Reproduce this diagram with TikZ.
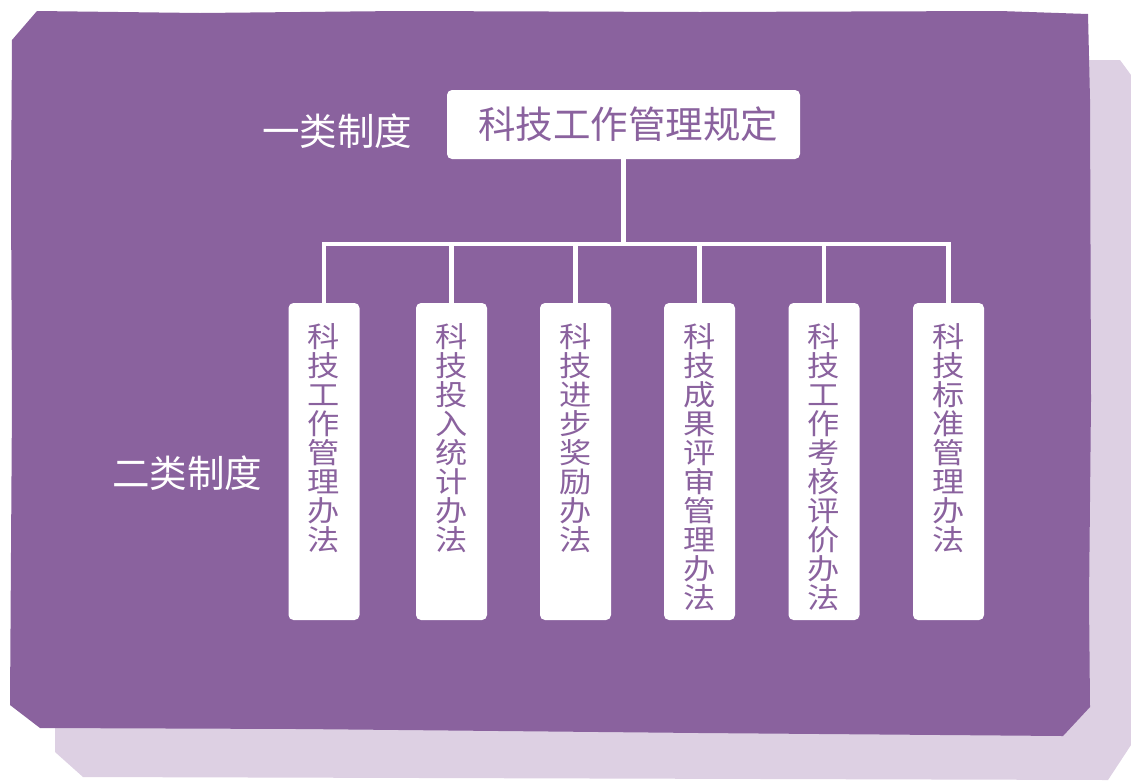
\documentclass[tikz,border=0pt]{standalone}
\usepackage{fontspec}
\newfontfamily\cjk{Noto Sans CJK SC}
\newfontfamily\cjkwide[FakeStretch=1.13]{Noto Sans CJK SC}
\usetikzlibrary{positioning}
\definecolor{bgpurple}{RGB}{138,98,158}
\definecolor{shadowpurple}{RGB}{221,208,227}

\begin{document}
\begin{tikzpicture}[x=1pt,y=-1pt,
  topbox/.style={fill=white,rounded corners=5pt,minimum width=353pt,minimum height=69pt,inner sep=0pt,
    text=bgpurple,font=\cjk\fontsize{37.5}{40}\selectfont},
  leafbox/.style={fill=white,rounded corners=5pt,minimum width=71pt,minimum height=317pt,inner sep=0pt},
  leaftext/.style={anchor=north,inner sep=0pt,text=bgpurple,align=center,text width=36pt,
    font=\cjkwide\fontsize{28.5}{29}\selectfont},
  levellabel/.style={text=white,inner sep=0pt,font=\cjk\fontsize{37.5}{40}\selectfont},
  conn/.style={draw=white,line width=4.5pt}]
\useasboundingbox (0,0) rectangle (1131,780);
% background: shadow and rough purple sheet
\fill [shadowpurple] (55,60) -- (1120,60) -- (1131,75) -- (1131,745) -- (1108,780) -- (83,777) -- (55,752) -- cycle;
\fill [bgpurple] (37,11) -- (200,13) -- (400,11) -- (700,12) -- (1000,11) -- (1088,14) -- (1090,100)
  -- (1091,400) -- (1089,600) -- (1090,707) -- (1063,736) -- (700,733) -- (300,729) -- (40,728)
  -- (10,705) -- (12,400) -- (11,200) -- (12,40) -- cycle;
% level labels
\node [levellabel] (lvl1) at (337,131) {一类制度};
\node [levellabel] (lvl2) at (187,473) {二类制度};
% top node
\node [topbox] (top) at (623.5,124.5) {\raisebox{4pt}{\hspace*{9pt}科技工作管理规定}};
\coordinate (hub) at (623.5,244);
\draw [conn] (top.south) -- (hub);
% second level
\foreach \i/\x/\txt in {1/324/{科\\技\\工\\作\\管\\理\\办\\法},
                        2/451.5/{科\\技\\投\\入\\统\\计\\办\\法},
                        3/575.5/{科\\技\\进\\步\\奖\\励\\办\\法},
                        4/699.5/{科\\技\\成\\果\\评\\审\\管\\理\\办\\法},
                        5/824/{科\\技\\工\\作\\考\\核\\评\\价\\办\\法},
                        6/948.5/{科\\技\\标\\准\\管\\理\\办\\法}} {
  \node [leafbox] (b\i) at (\x,461.5) {};
  \node [leaftext] (t\i) at ([yshift=-21pt]b\i.north) {\txt};
  \draw [conn] (b\i.north) |- (hub);
}
\end{tikzpicture}
\end{document}
